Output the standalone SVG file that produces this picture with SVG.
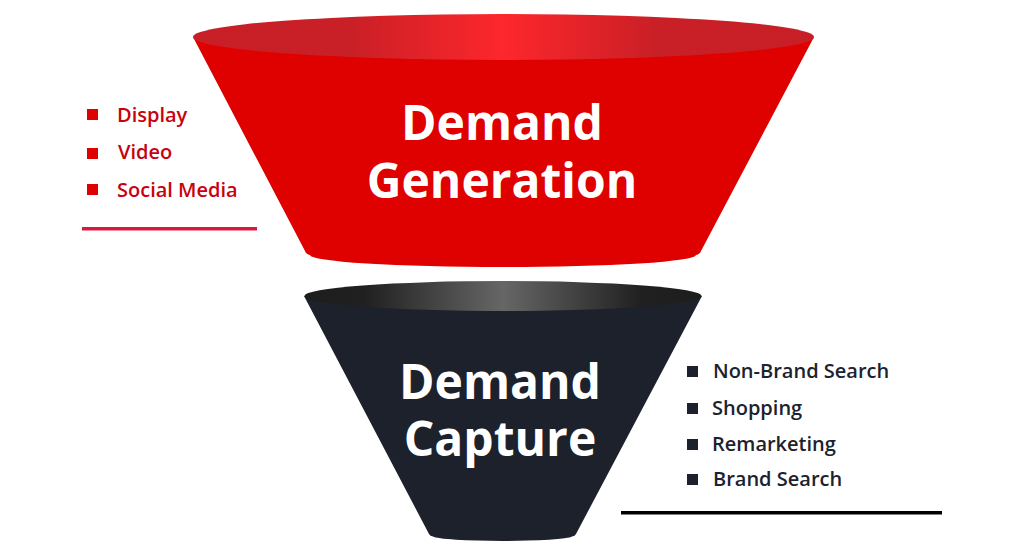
<svg xmlns="http://www.w3.org/2000/svg" width="1024" height="552" viewBox="0 0 1024 552">
<style>
text{font-family:"Open Sans","Noto Sans",sans-serif}
.t{font-weight:700;font-size:48px;fill:#fff;text-anchor:middle}
.r{font-weight:600;font-size:20px;fill:#c8020c}
.d{font-weight:600;font-size:20px;fill:#1c222e}
.br{fill:#df0000}.bd{fill:#1c212c}
</style>
<defs>
<linearGradient id="gr" x1="0" x2="1" y1="0" y2="0"><stop offset="0" stop-color="#c81f27"/><stop offset=".25" stop-color="#c91f26"/><stop offset=".5" stop-color="#fd272c"/><stop offset=".75" stop-color="#c91f26"/><stop offset="1" stop-color="#c81f27"/></linearGradient>
<linearGradient id="gd" x1="0" x2="1" y1="0" y2="0"><stop offset="0" stop-color="#1d1d1d"/><stop offset=".15" stop-color="#202020"/><stop offset=".5" stop-color="#666"/><stop offset=".85" stop-color="#202020"/><stop offset="1" stop-color="#1d1d1d"/></linearGradient>
</defs>
<g id="connectors"/>
<g id="demand-generation">
<path class="br" d="M193 37L305 251Q306 254 310 255A193 12 0 0 0 696 255Q700 254 701 251L814 37Z"/>
<ellipse cx="503.500" cy="37" rx="310.500" ry="23" fill="url(#gr)"/>
<text class="t" x="502" y="140">Demand</text>
<text class="t" x="502" y="198">Generation</text>
</g>
<g id="demand-capture">
<path class="bd" d="M304 296L429 534Q430 536 433 536.500A70 5 0 0 0 572 536.500Q575 536 576 534L702 296Z"/>
<ellipse cx="503" cy="296" rx="198.500" ry="15" fill="url(#gd)"/>
<text class="t" x="500" y="399">Demand</text>
<text class="t" x="500" y="456">Capture</text>
</g>
<g id="list-generation">
<rect class="br" x="87" y="109" width="11" height="11"/>
<rect class="br" x="87" y="148" width="11" height="11"/>
<rect class="br" x="87" y="184" width="11" height="11"/>
<text class="r" x="117" y="122">Display</text>
<text class="r" x="118" y="159">Video</text>
<text class="r" x="117" y="197">Social Media</text>
<rect x="82" y="227" width="175" height="3.500" fill="#d7193f"/>
</g>
<g id="list-capture">
<rect class="bd" x="687" y="366" width="11" height="11"/>
<rect class="bd" x="687" y="403" width="11" height="11"/>
<rect class="bd" x="687" y="439" width="11" height="11"/>
<rect class="bd" x="687" y="474" width="11" height="11"/>
<text class="d" x="713" y="378">Non-Brand Search</text>
<text class="d" x="712" y="415">Shopping</text>
<text class="d" x="712" y="451">Remarketing</text>
<text class="d" x="713" y="486">Brand Search</text>
<rect x="621" y="511" width="321" height="3.500" fill="#000"/>
</g>
</svg>
